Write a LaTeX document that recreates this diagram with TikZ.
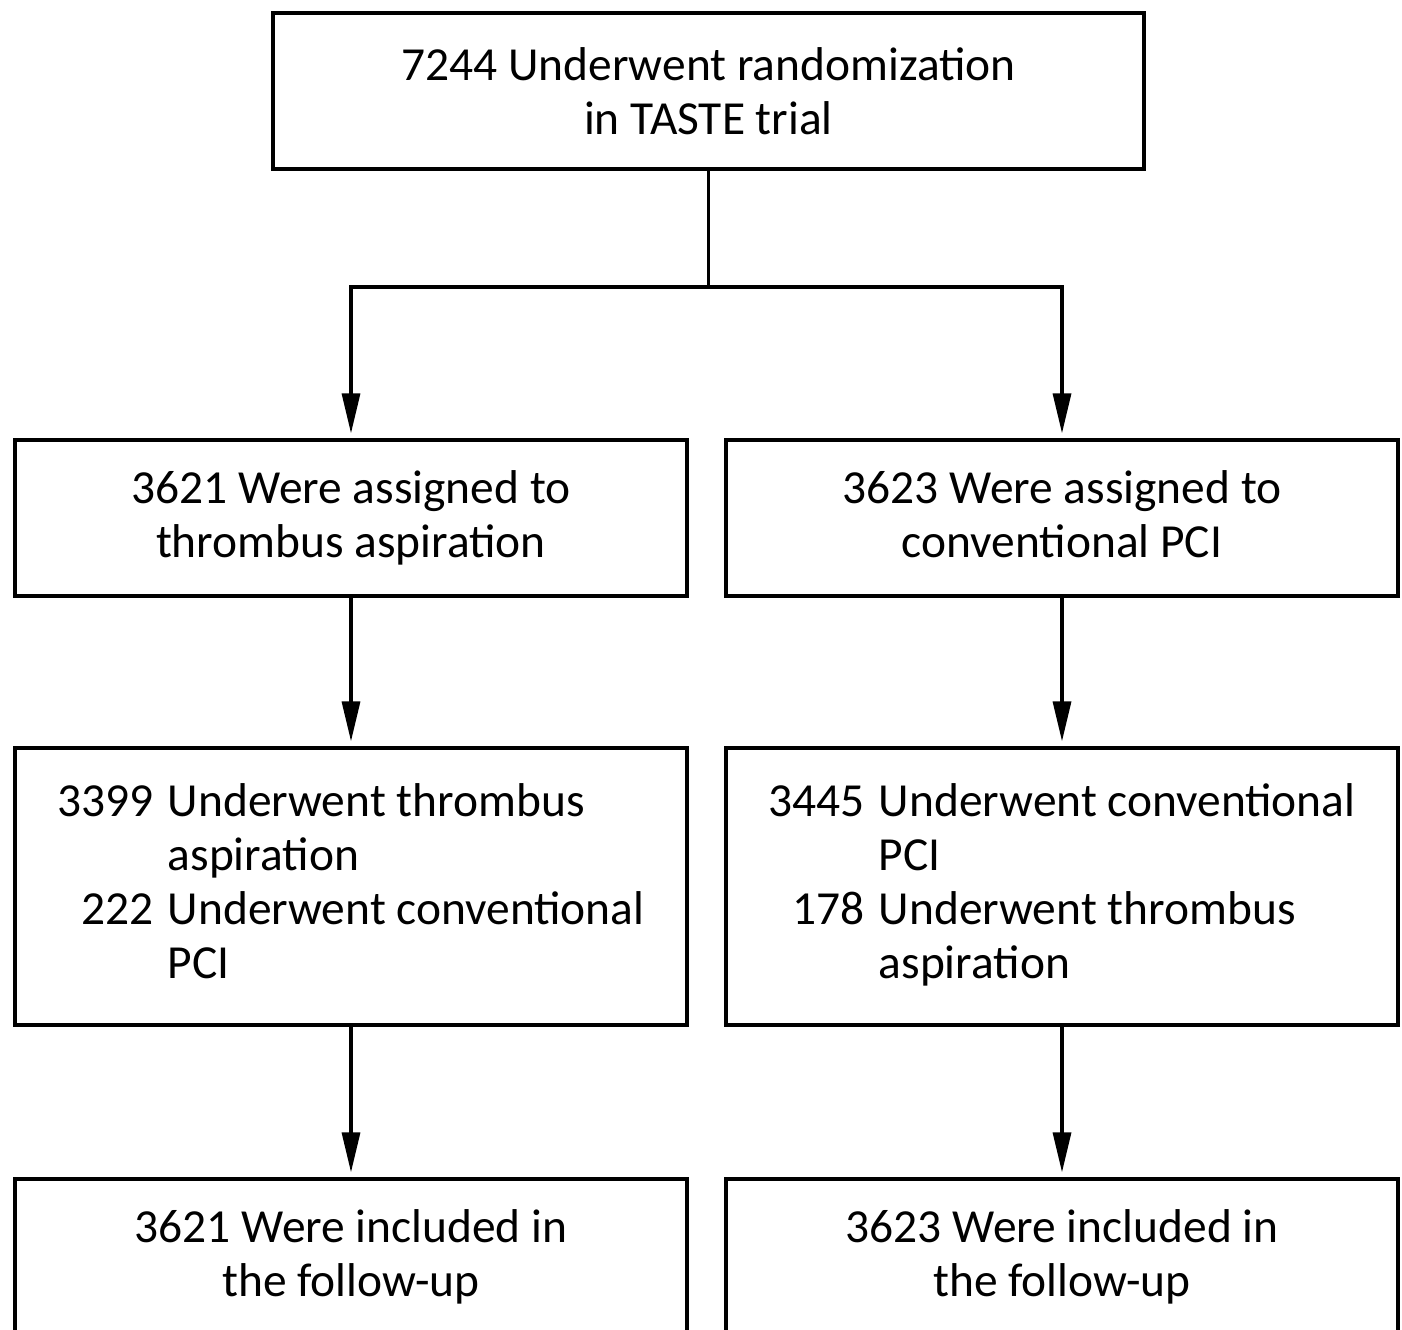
\documentclass[tikz,border=0pt]{standalone}
\usepackage{fontspec}
\setmainfont{Carlito}
\usepackage{xcolor}
\usetikzlibrary{arrows.meta}
\definecolor{ink}{HTML}{000000}
\newcommand{\flowfont}{\fontsize{27}{30.7}\selectfont}
\tikzset{
  box/.style={draw=ink, line width=1.9pt, align=center, font=\flowfont, inner sep=0pt},
  wide/.style={minimum width=17.42cm, minimum height=3.12cm},
  arm/.style={minimum width=13.44cm, minimum height=3.12cm},
  tall/.style={minimum width=13.44cm, minimum height=5.54cm},
  link/.style={draw=ink, line width=1.9pt},
  arr/.style={link, -{Triangle[length=0.8cm,width=0.36cm]}, shorten >=0.1cm},
}

\begin{document}
\begin{tikzpicture}[x=0.02cm, y=-0.02cm]
  \path[use as bounding box, clip] (0,0) rectangle (1402,1329);
  % boxes
  \node[box,wide] (rand) at (708.5,91) {7244 Underwent randomization\\in TASTE trial};
  \node[box,arm] (asp) at (351,518) {3621 Were assigned to\\thrombus aspiration};
  \node[box,arm] (pci) at (1062,518) {3623 Were assigned to\\conventional PCI\vphantom{p}};
  \node[box,tall] (asptx) at (351,886.5) {%
    \begin{tabular}{@{}r@{\hspace{8pt}}l@{}}
      3399 & Underwent thrombus\\
           & aspiration\\
      222  & Underwent conventional\\
           & PCI
    \end{tabular}};
  \node[box,tall] (pcitx) at (1062,886.5) {%
    \begin{tabular}{@{}r@{\hspace{8pt}}l@{}}
      3445 & Underwent conventional\\
           & PCI\\
      178  & Underwent thrombus\\
           & aspiration
    \end{tabular}};
  \node[box,arm] (aspfu) at (351,1257) {3621 Were included in\\the follow-up};
  \node[box,arm] (pcifu) at (1062,1257) {3623 Were included in\\the follow-up};
  % connectors
  \coordinate (fork) at (708.5,287);
  \draw[link] (rand.south) -- (fork);
  \draw[arr] (fork) -| (asp.north);
  \draw[arr] (fork) -| (pci.north);
  \draw[arr] (asp.south) -- (asptx.north);
  \draw[arr] (pci.south) -- (pcitx.north);
  \draw[arr] (asptx.south) -- (aspfu.north);
  \draw[arr] (pcitx.south) -- (pcifu.north);
\end{tikzpicture}
\end{document}
